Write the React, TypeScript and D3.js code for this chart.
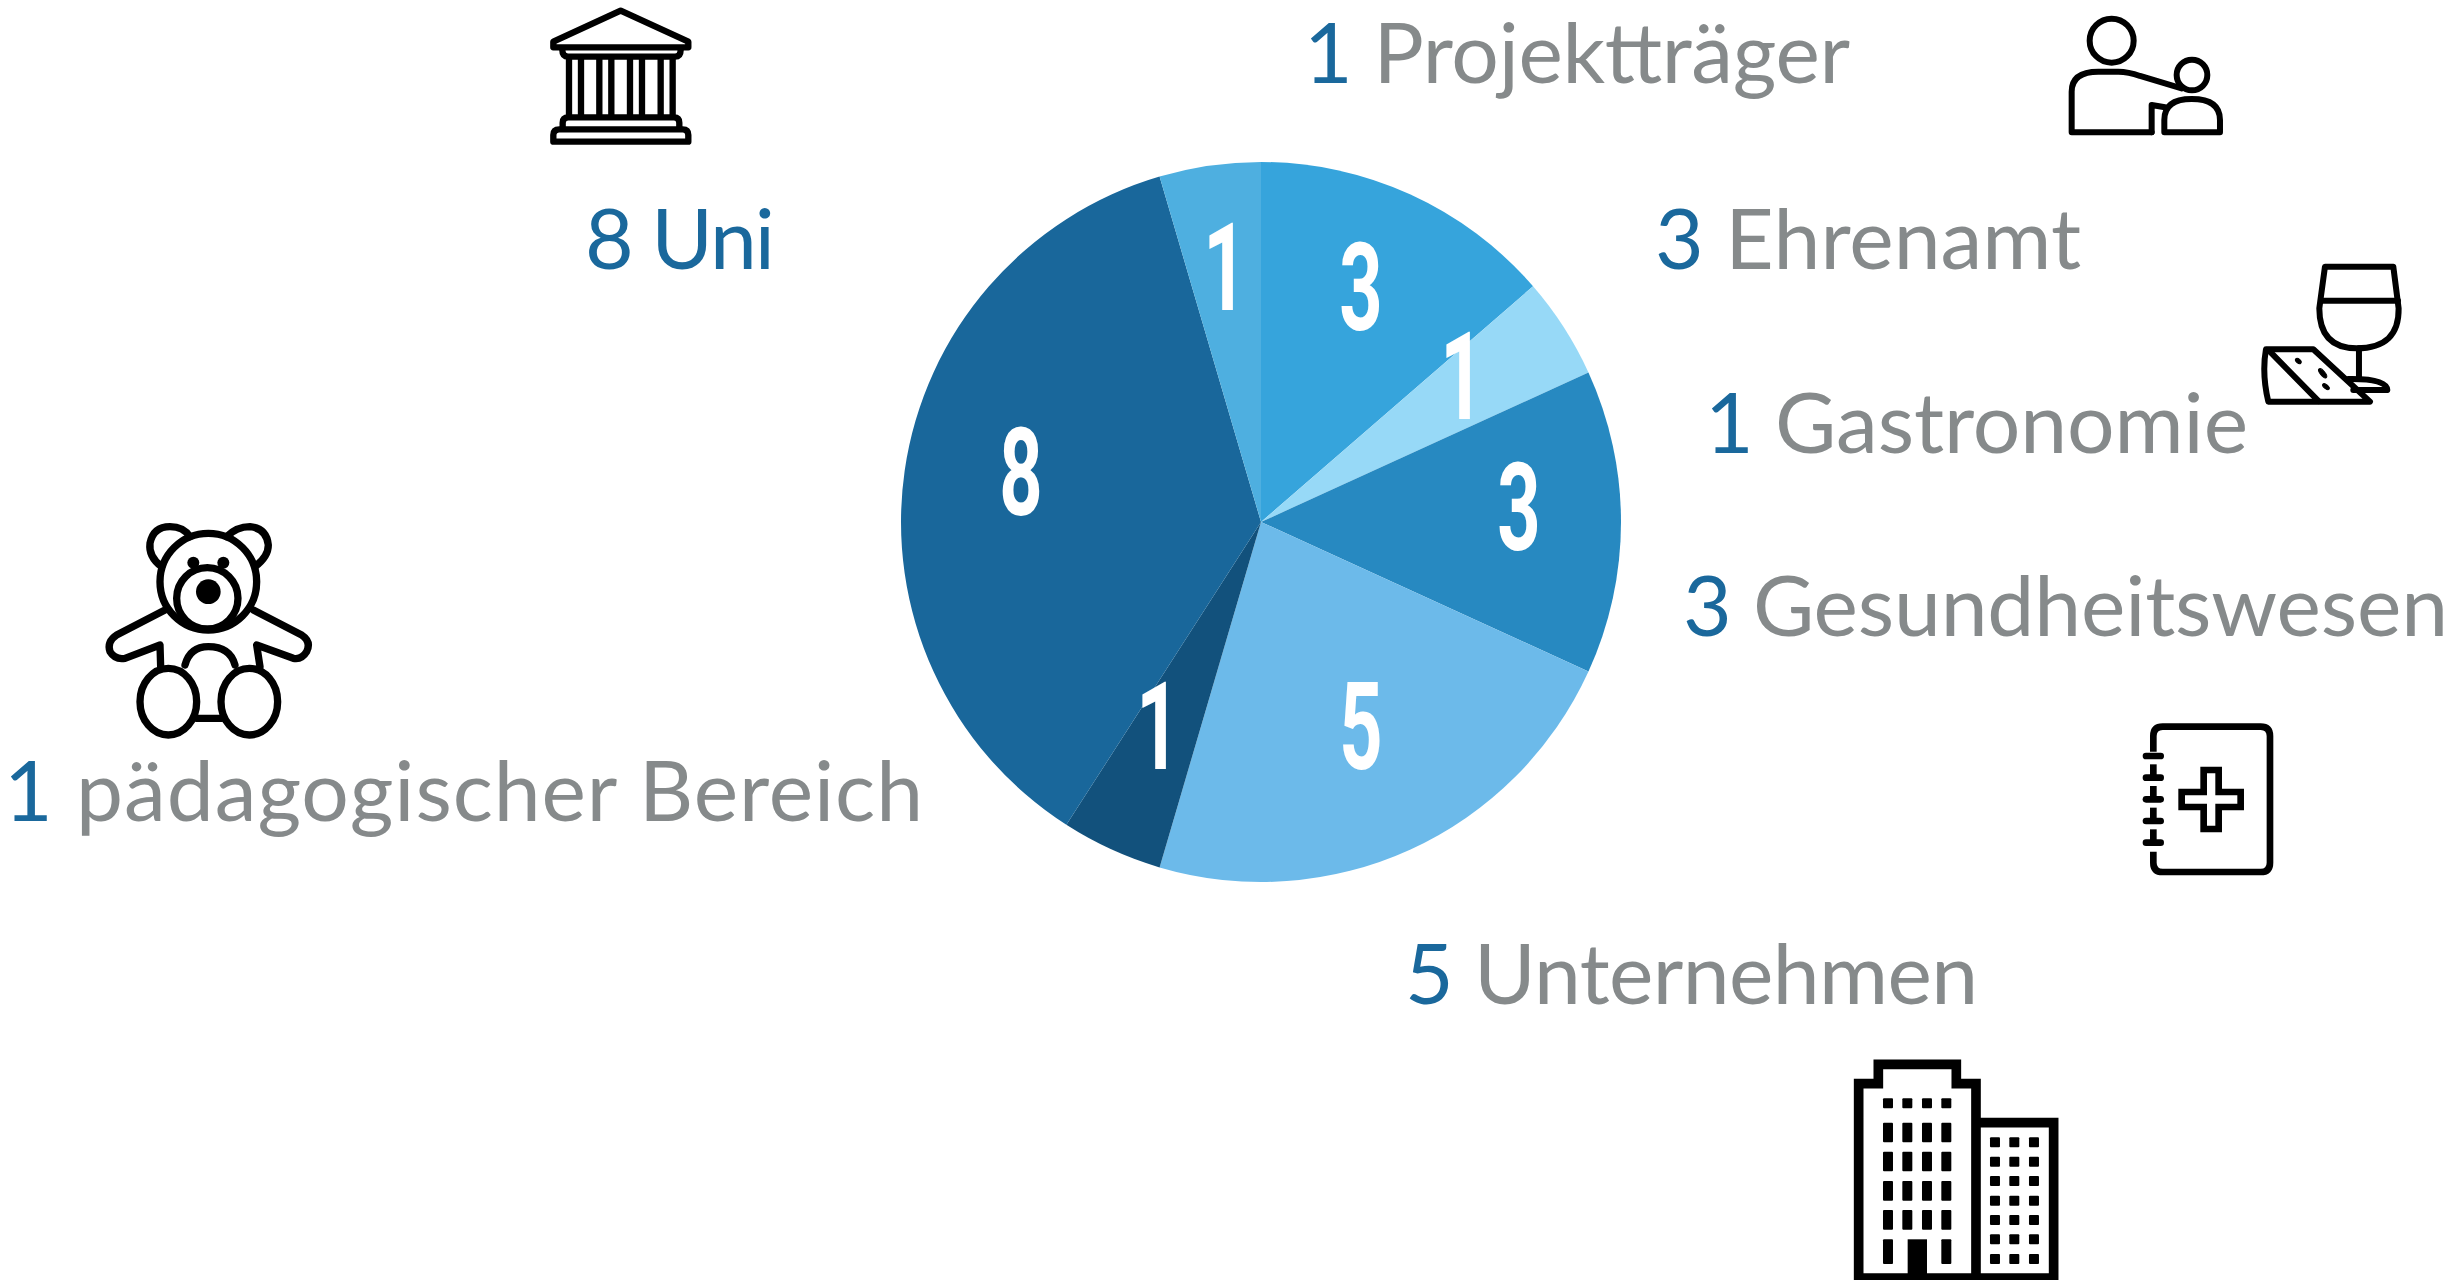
import * as d3 from 'd3';

const WIDTH = 2448;
const HEIGHT = 1280;

// Slices, clockwise from 12 o'clock
const sectors = ['Ehrenamt', 'Gastronomie', 'Gesundheitswesen', 'Unternehmen', 'pädagogischer Bereich', 'Uni', 'Projektträger'];
const counts = [3, 1, 3, 5, 1, 8, 1];
const sliceColors = ['#36A4DC', '#97D9F7', '#2789C1', '#6CBAEA', '#12517C', '#19679B', '#4EAFE0'];

// Where the white count sits on each slice (centre x, baseline y)
const countX = [1361, 1462, 1519, 1361, 1158, 1021, 1225];
const countY = [330, 419, 550, 769, 769, 515, 310];

// Outer labels: number + name, left edge, right edge, baseline
const labelNames = ['Projektträger', 'Ehrenamt', 'Gastronomie', 'Gesundheitswesen', 'Unternehmen', 'Uni', 'pädagogischer Bereich'];
const labelCounts = [1, 3, 1, 3, 5, 8, 1];
const labelLeft = [1304, 1655, 1705, 1683, 1405, 585, 4];
const labelRight = [1850, 2081, 2248, 2448, 1978, 775, 923];
const labelBase = [83, 269, 453, 636, 1004, 269, 821];
const labelNameBlue = ['Uni'];

const BLUE = '#1A689C';
const GRAY = '#868A8B';
const LABEL_FONT = 'Lato, "Open Sans", sans-serif';
const COUNT_FONT = '"Liberation Sans Narrow", Roboto, sans-serif';

const cx = 1261;
const cy = 522;
const radius = 360;

const pie = d3.pie<number>().sort(null).startAngle(0).endAngle(2 * Math.PI);
const arc = d3.arc<d3.PieArcDatum<number>>().innerRadius(0).outerRadius(radius);

const iconStyle = { fill: 'none', stroke: '#000', strokeLinejoin: 'round', strokeLinecap: 'round' } as const;

function PersonIcon() {
  return (
    <g transform="translate(2040,0) scale(0.3333)" {...iconStyle} strokeWidth={18}>
      <circle cx={215} cy={122} r={66} />
      <circle cx={456} cy={225} r={46} />
      <path d="M335,397 H95 V275 Q95,215 175,215 H235 Q265,215 300,228 L425,265" />
      <path d="M335,397 V315 L375,322" />
      <path d="M373,397 V360 Q373,297 455,297 Q540,297 540,360 V397 Z" />
    </g>
  );
}

function WineIcon() {
  return (
    <g transform="translate(2040,0) scale(0.3333)" {...iconStyle} strokeWidth={18}>
      <path d="M855,800 H1060 L1076,925 Q1078,1045 950,1045 Q838,1045 838,925 Z" />
      <path d="M843,902 H1074" />
      <path d="M957,1045 V1135" />
      <path d="M925,1137 Q1040,1135 1042,1170 H940" />
      <path d="M678,1048 H820 L990,1205 H685 Q665,1120 678,1048 Z" />
      <path d="M690,1055 L835,1203" />
      <ellipse cx={775} cy={1083} rx={10} ry={6} transform="rotate(40 775 1083)" fill="#000" strokeWidth={3} />
      <ellipse cx={848} cy={1120} rx={17} ry={7} transform="rotate(50 848 1120)" fill="#000" strokeWidth={3} />
      <ellipse cx={858} cy={1160} rx={12} ry={6} transform="rotate(40 858 1160)" fill="#000" strokeWidth={3} />
    </g>
  );
}

function BankIcon() {
  const columns = [147, 183, 238, 274, 330, 366, 422, 458];
  return (
    <g transform="translate(520,0) scale(0.3333)" {...iconStyle} strokeWidth={19}>
      <path d="M302,32 L100,125 V142 H505 V125 Z" />
      <path d="M127,150 Q127,170 145,170 H465 Q482,170 482,150" />
      {columns.map((x) => <path key={x} d={`M${x},170 V350`} strokeLinecap="butt" />)}
      <path d="M128,385 V368 Q128,352 145,352 H462 Q478,352 478,368 V385" />
      <path d="M100,425 V405 Q100,388 118,388 H488 Q505,388 505,405 V425 Z" />
    </g>
  );
}

function TeddyIcon() {
  return (
    <g transform="translate(90,510) scale(0.3333)" {...iconStyle} strokeWidth={22}>
      <path d="M215,170 Q175,140 180,100 Q190,50 240,50 Q280,50 300,80" />
      <path d="M410,80 Q440,50 480,50 Q530,55 535,105 Q535,140 495,170" />
      <circle cx={355} cy={215} r={145} />
      <circle cx={352} cy={265} r={92} />
      <circle cx={355} cy={245} r={37} fill="#000" stroke="none" />
      <circle cx={310} cy={158} r={18} fill="#000" stroke="none" />
      <circle cx={400} cy={158} r={18} fill="#000" stroke="none" />
      <path d="M225,300 L80,375 Q50,395 60,425 Q75,450 105,445 L210,405 L212,470" />
      <path d="M490,300 L635,375 Q665,395 650,425 Q635,450 610,445 L500,405 L510,470" />
      <path d="M285,465 Q300,410 355,410 Q420,410 435,465" />
      <ellipse cx={235} cy={575} rx={85} ry={100} />
      <ellipse cx={478} cy={575} rx={85} ry={100} />
      <path d="M320,625 H395" />
    </g>
  );
}

function NotebookIcon() {
  const rings = [138, 203, 268, 333, 398];
  return (
    <g transform="translate(2120,710) scale(0.3333)" {...iconStyle} strokeWidth={20}>
      <path d="M100,125 V78 Q100,50 128,50 H422 Q450,50 450,78 V458 Q450,486 422,486 H128 Q100,486 100,458 V425" strokeLinecap="butt" />
      {rings.map((y) => <path key={y} d={`M78,${y} H122`} />)}
      {rings.slice(1).map((y) => <path key={y} d={`M100,${y - 40} V${y}`} strokeLinecap="butt" />)}
      <path d="M251,180 H296 V246 H362 V291 H296 V357 H251 V291 H185 V246 H251 Z" strokeLinejoin="miter" />
    </g>
  );
}

function BuildingIcon() {
  const leftCols = [174, 232, 291, 349];
  const leftRows = [248, 335, 423, 510];
  const rightCols = [495, 553, 612];
  const rightRows = [307, 365, 423, 482, 540, 598, 657];
  return (
    <g transform="translate(1830,1040) scale(0.3333)">
      <path d="M86,720 V131 H145 V73 H379 V131 H438 V720 M438,248 H671 V720 M86,714 H671" fill="none" stroke="#000" strokeWidth={29} />
      {leftCols.map((x) => <rect key={x} x={x - 15} y={175} width={30} height={30} rx={3} />)}
      {leftCols.flatMap((x) => leftRows.map((y) => <rect key={`${x}-${y}`} x={x - 15} y={y} width={30} height={59} rx={3} />))}
      <rect x={159} y={598} width={30} height={74} rx={3} />
      <rect x={334} y={598} width={30} height={74} rx={3} />
      <rect x={233} y={598} width={58} height={122} />
      {rightCols.flatMap((x) => rightRows.map((y) => <rect key={`${x}-${y}`} x={x - 15} y={y - 15} width={30} height={30} rx={3} />))}
    </g>
  );
}

export default function App() {
  const arcs = pie(counts);
  return (
    <svg width={WIDTH} height={HEIGHT} viewBox={`0 0 ${WIDTH} ${HEIGHT}`}
      style={{ position: 'absolute', left: 0, top: 0, display: 'block', background: '#fff' }}>
      <g transform={`translate(${cx},${cy})`}>
        {arcs.map((d, i) => (
          <path key={sectors[i]} d={arc(d) ?? ''} fill={sliceColors[i]} />
        ))}
      </g>

      {counts.map((c, i) => (
        <text key={sectors[i]} transform={`translate(${countX[i]},${countY[i]}) scale(0.62,1)`}
          textAnchor="middle" fontFamily={COUNT_FONT} fontWeight={700} fontSize={122} fill="#fff">
          {c}
        </text>
      ))}

      {labelNames.map((name, i) => (
        <text key={name} x={labelLeft[i]} y={labelBase[i]} fontFamily={LABEL_FONT} fontSize={84}
          textLength={labelRight[i] - labelLeft[i]} lengthAdjust="spacing">
          <tspan fill={BLUE}>{labelCounts[i]} </tspan>
          <tspan fill={labelNameBlue.includes(name) ? BLUE : GRAY}>{name}</tspan>
        </text>
      ))}

      <BankIcon />
      <PersonIcon />
      <WineIcon />
      <TeddyIcon />
      <NotebookIcon />
      <BuildingIcon />
    </svg>
  );
}
